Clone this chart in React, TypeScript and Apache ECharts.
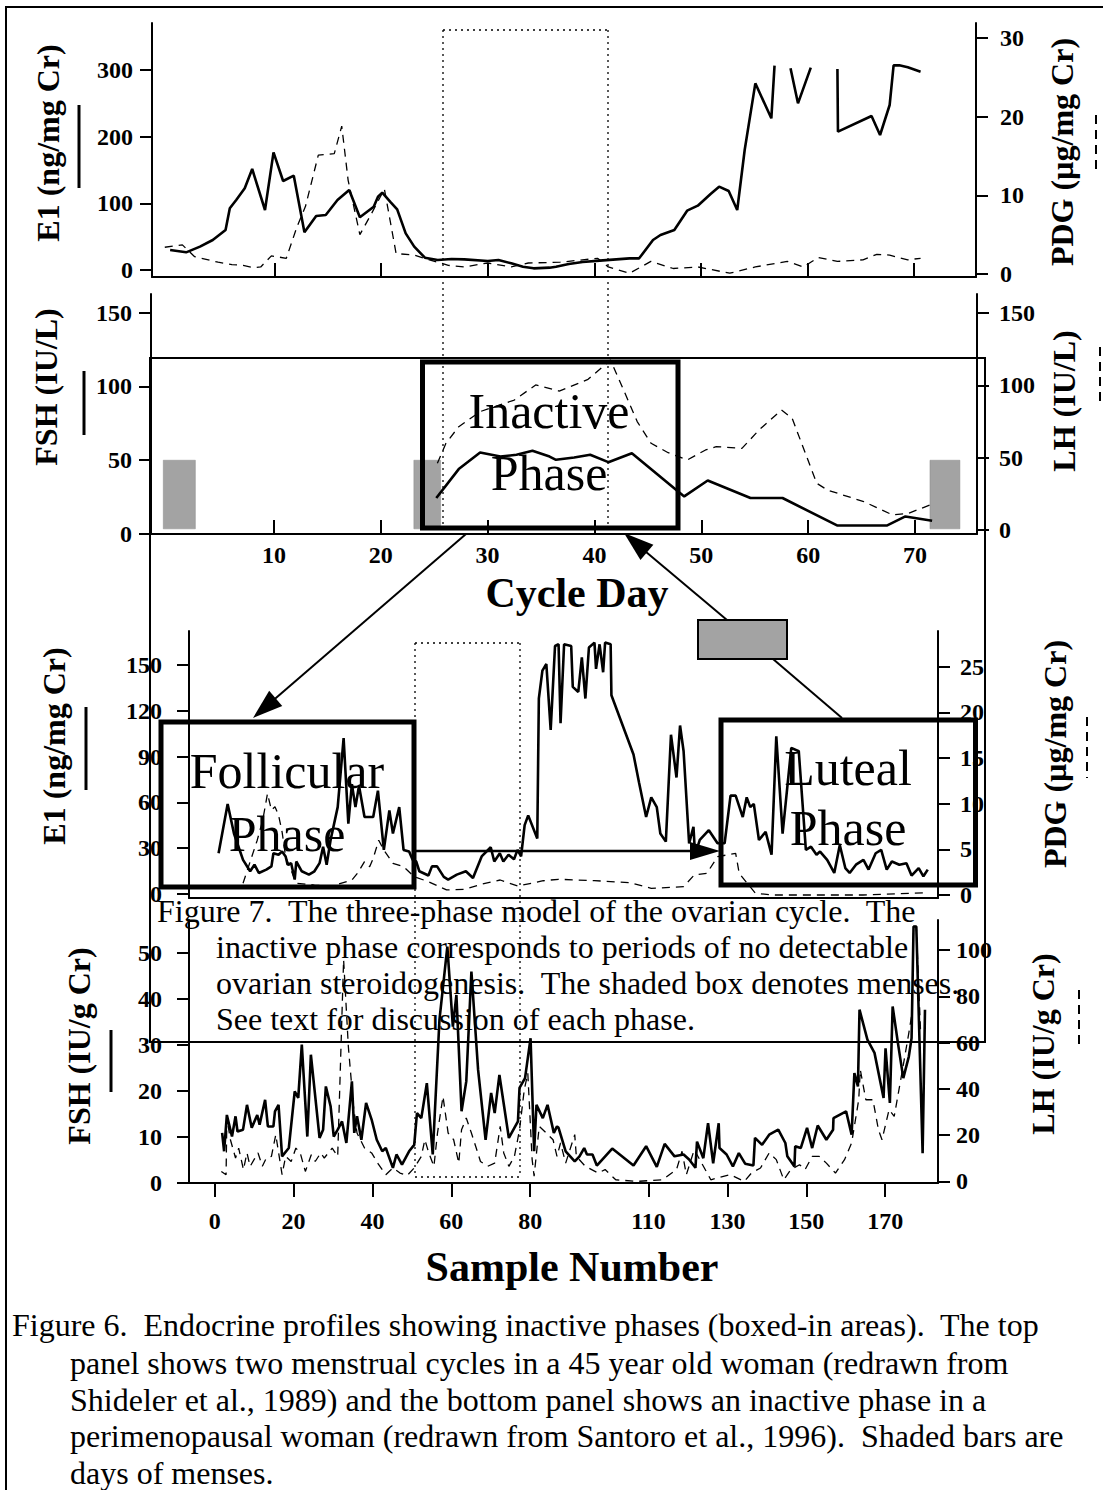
import React, { useEffect, useRef } from "react";
import * as echarts from "echarts";

const FONT = "'Liberation Serif', 'Times New Roman', serif";

// ---------- Panel 1: E1 / PDG by cycle day ----------
const cycleDayTicks = [10, 20, 30, 40, 50, 60, 70];
const e1AxisTicks = [0, 100, 200, 300];
const pdgAxisTicks = [0, 10, 20, 30];
const e1ByCycleDay: (number | string)[][] = [
  [0.2, 30], [1.7, 26.5], [3.0, 35], [4.2, 45], [5.4, 60], [5.8, 92.5], [6.4, 105], [7.2, 122.5],
  [7.9, 151.5], [9.1, 90], [9.9, 176.5], [10.8, 133.5], [11.8, 141.5], [12.8, 56.5], [13.9, 81],
  [14.8, 82.5], [15.9, 105], [17.0, 120], [18.0, 79], [19.3, 95], [19.7, 110], [20.1, 116],
  [20.9, 101.5], [21.5, 91], [22.3, 55], [23.1, 35], [24.1, 18.5], [25.3, 15], [26.6, 16.5],
  [27.8, 16], [30.0, 13.5], [31.0, 15], [32.2, 10], [33.3, 5], [34.3, 2.5], [35.8, 3.5], [36.4, 5],
  [37.6, 9], [38.9, 12], [40.5, 14], [43.3, 17.5], [44.2, 17.5], [45.5, 45], [46.2, 52.5],
  [47.5, 60], [48.7, 89], [49.7, 96.5], [50.9, 114], [51.7, 125], [52.6, 118.5], [53.4, 90],
  [54.1, 180], [55.1, 280], [56.6, 227.5], [56.9, 306.5], [57.6, "-"], [58.4, 302.5], [59.1, 250],
  [60.3, 303.5], [61.5, "-"], [62.8, 301.5], [62.85, 207.5], [66.0, 231], [66.8, 202.5],
  [67.7, 247.5], [68.07, 307], [68.6, 307], [69.4, 304], [70.6, 297.5],
];
const pdgByCycleDay: number[][] = [
  [-0.3, 3.4], [1.35, 3.7], [2.5, 2.2], [4.7, 1.5], [6.0, 1.2], [7.05, 1.1], [8.05, 0.8], [8.7, 0.9],
  [9.7, 2.3], [11.1, 2.0], [12.1, 6.0], [12.9, 8.6], [14.1, 15.1], [15.6, 15.3], [16.3, 18.8],
  [16.9, 11.9], [18.0, 5.0], [19.1, 7.7], [20.3, 10.8], [21.4, 2.6], [23.1, 2.4], [24.3, 1.9],
  [26.3, 1.1], [27.8, 0.9], [30.0, 1.4], [32.2, 0.9], [33.8, 1.4], [36.8, 1.5], [40.3, 2.0],
  [41.3, 0.9], [43.3, 0.1], [45.3, 1.6], [47.4, 0.7], [49.7, 0.9], [52.7, 0.1], [55.1, 0.9],
  [58.1, 1.6], [59.6, 0.9], [61.0, 2.1], [62.8, 1.6], [65.2, 1.8], [66.5, 2.5], [67.7, 2.4],
  [69.4, 1.8], [70.6, 2.0],
];

// ---------- Panel 2: FSH / LH by cycle day ----------
const fshLhTicks = [0, 50, 100, 150];
const fshByCycleDay: number[][] = [
  [25.2, 24.4], [27.3, 44.0], [29.3, 55.2], [31.2, 52.5], [32.7, 53.7], [34.2, 56.4], [35.8, 52.5],
  [36.4, 50.3], [38.1, 51.9], [39.6, 53.7], [41.3, 48.7], [43.5, 54.8], [48.4, 25.5], [50.6, 36.3],
  [54.6, 24.4], [57.6, 24.4], [62.7, 5.8], [67.4, 5.8], [69.1, 11.9], [71.6, 9.0],
];
const lhByCycleDay: number[][] = [
  [25.3, 46.1], [26.1, 59.9], [27.3, 71.4], [29.3, 81.8], [32.5, 89.8], [34.5, 100.2], [36.7, 96],
  [39.4, 104.1], [41.5, 117.5], [43.0, 92.1], [44.0, 74.9], [45.3, 59.9], [46.9, 53.4], [48.7, 48.4],
  [50.4, 55.3], [51.4, 57.6], [53.8, 56.4], [55.4, 69.1], [57.5, 82.9], [58.5, 77.2], [60.8, 32.3],
  [61.8, 27.6], [65.2, 19.6], [67.9, 10.4], [69.4, 11.5], [71.4, 17.3],
];
// menses bars: [startDay, endDay, low, high]
const mensesDays: number[][] = [
  [-0.35, 2.65, 3.5, 50], [23.1, 25.6, 3.5, 50], [71.4, 74.2, 3.5, 50],
];

// ---------- Panel 3: E1 / PDG by sample number ----------
const sampleTicks = [0, 20, 40, 60, 80, 110, 130, 150, 170];
const e1SampleTicks = [0, 30, 60, 90, 120, 150];
const pdgSampleTicks = [0, 5, 10, 15, 20, 25];
const e1BySample: number[][] = [
  [1.0, 26.7], [3.3, 59.0], [4.9, 39.6], [7.2, 22.4], [9.0, 14.9], [10.1, 19.2], [11.2, 13.8],
  [13.1, 16.0], [14.4, 18.1], [14.9, 26.7], [16.2, 25.7], [17.1, 27.8], [18.0, 24.6], [18.5, 19.2],
  [19.4, 20.2], [20.3, 9.5], [20.7, 21.3], [22.1, 14.9], [23.9, 12.7], [25.3, 14.9], [26.6, 20.2],
  [27.5, 31.0], [28.4, 19.2], [29.4, 35.4], [31.2, 56.9], [32.7, 102.1], [33.9, 46.1], [34.8, 71.9],
  [35.7, 56.9], [36.6, 70.9], [38.0, 50.4], [40.2, 50.4], [41.4, 67.7], [42.9, 28.9], [44.3, 54.8],
  [45.2, 39.6], [46.8, 56.9], [47.9, 28.9], [49.3, 27.8], [50.2, 22.4], [51.1, 21.3], [51.9, 14.9],
  [54.2, 12.1], [55.1, 18.1], [56.4, 18.1], [58.1, 11.2], [59.2, 9.5], [61.4, 12.7], [63.7, 14.9],
  [65.5, 10.5], [67.7, 24.6], [70.0, 30.6], [70.9, 21.3], [72.3, 26.7], [73.2, 21.3], [74.5, 25.7],
  [75.9, 22.8], [76.8, 28.9], [77.7, 24.6], [78.6, 45.1], [79.5, 51.5], [81.8, 36.4], [82.2, 128.0],
  [83.1, 146.3], [84.1, 150.6], [85.2, 107.5], [86.3, 162.4], [87.2, 163.5], [87.7, 111.8],
  [88.6, 163.5], [90.4, 162.4], [90.8, 135.6], [92.2, 132.3], [93.1, 154.9], [94.0, 128.0],
  [94.9, 161.4], [96.3, 164.6], [96.7, 147.4], [97.6, 163.5], [98.5, 145.2], [99.0, 164.6],
  [100.4, 163.5], [100.6, 130.1], [106.2, 91.3], [107.6, 73.0], [109.4, 50.4], [110.7, 63.3],
  [112.1, 56.9], [113.0, 39.6], [114.4, 34.3], [115.7, 104.3], [117.1, 76.3], [118.0, 110.3],
  [118.9, 93.5], [120.3, 33.2], [121.4, 44.0], [121.8, 25.7], [123.0, 35.4], [125.3, 41.8],
  [127.5, 33.2], [129.3, 33.2], [130.8, 64.4], [132.1, 64.4], [133.9, 50.4], [134.9, 63.3],
  [135.8, 56.9], [136.7, 59.0], [138.0, 35.4], [139.7, 40.7], [141.2, 25.7], [142.4, 103.2],
  [144.0, 39.6], [146.2, 95.7], [148.1, 93.5], [149.9, 28.9], [151.2, 31.0], [152.6, 25.7],
  [153.5, 27.8], [155.3, 22.4], [157.1, 13.8], [158.5, 32.1], [159.9, 17.0], [161.0, 13.8],
  [162.6, 19.2], [164.5, 22.4], [165.8, 16.0], [167.6, 26.7], [169.0, 28.9], [170.4, 16.0],
  [171.7, 21.3], [173.6, 19.2], [175.4, 20.2], [176.7, 12.1], [178.5, 17.0], [179.7, 11.6],
  [180.8, 16.0],
];
const pdgBySample: number[][] = [
  [7.2, 1.28], [9.0, 3.65], [10.8, 6.0], [12.2, 8.2], [13.4, 11.1], [14.4, 9.3], [15.3, 9.66],
  [16.2, 8.75], [17.1, 6.9], [18.0, 4.2], [20.7, 1.28], [25.3, 1.09], [29.8, 0.98], [34.8, 1.64],
  [36.2, 2.37], [38.0, 3.65], [39.3, 3.1], [40.2, 4.0], [41.6, 6.0], [42.9, 4.92], [45.2, 3.47],
  [47.9, 3.1], [50.6, 2.0], [54.2, 1.46], [58.8, 0.55], [63.3, 0.62], [67.9, 1.2], [72.4, 1.64],
  [76.9, 0.98], [83.3, 1.56], [87.2, 1.72], [96.3, 1.57], [105.3, 1.35], [110.7, 0.73],
  [118.9, 0.91], [121.6, 2.19], [124.8, 2.37], [127.5, 4.19], [132.1, 4.56], [133.0, 2.37],
  [137.1, 0.19], [141.7, 0.0], [155.3, 0.0], [164.4, 0.0], [180.8, 0.25],
];

// ---------- Panel 4: FSH / LH by sample number ----------
const fshSampleTicks = [0, 10, 20, 30, 40, 50];
const lhSampleTicks = [0, 20, 40, 60, 80, 100];
const fshBySample: number[][] = [
  [1.9, 10.9], [2.4, 6.9], [3.1, 14.8], [4.4, 10.1], [5.3, 14.5], [5.8, 11.2], [7.2, 11.6],
  [8.2, 17.0], [9.4, 12.0], [10.8, 14.8], [11.4, 12.7], [12.8, 18.1], [13.5, 12.3], [14.9, 12.3],
  [15.3, 15.6], [16.2, 17.0], [17.1, 5.8], [18.8, 7.6], [20.3, 19.9], [21.2, 18.5], [22.1, 30.1],
  [23.5, 10.1], [24.4, 27.9], [26.6, 9.8], [27.5, 11.6], [28.2, 21.0], [29.4, 16.7], [30.2, 10.1],
  [31.2, 11.6], [32.3, 13.4], [33.4, 8.7], [34.8, 22.1], [35.4, 10.9], [36.1, 14.5], [37.2, 9.4],
  [38.4, 17.4], [39.8, 13.8], [41.1, 9.4], [42.5, 6.9], [43.4, 7.6], [45.2, 3.3], [46.1, 6.2],
  [47.5, 4.0], [49.3, 6.9], [50.6, 8.3], [51.3, 15.2], [52.4, 14.1], [53.8, 21.7], [55.3, 6.2],
  [57.0, 35.5], [59.0, 51.4], [60.4, 34.0], [61.3, 40.9], [62.6, 15.6], [63.8, 22.1], [65.1, 46.0],
  [66.8, 24.6], [68.7, 9.4], [70.1, 19.6], [71.0, 15.2], [72.2, 23.5], [74.6, 9.8], [76.9, 13.4],
  [77.3, 20.7], [78.7, 22.8], [80.1, 31.5], [81.0, 6.9], [81.6, 17.0], [83.2, 14.1], [84.4, 17.0],
  [86.0, 10.9], [86.8, 12.3], [87.2, 12.0], [89.0, 6.9], [91.3, 4.7], [92.5, 5.8], [93.7, 7.6],
  [94.4, 6.2], [95.8, 6.2], [96.9, 3.8], [100.8, 7.5], [106.2, 3.8], [109.4, 8.0], [112.1, 3.5],
  [114.1, 8.5], [116.6, 5.8], [118.9, 6.2], [120.3, 5.1], [121.9, 3.3], [122.3, 9.0], [123.9, 5.4],
  [125.1, 13.0], [126.4, 4.3], [127.8, 13.0], [128.0, 7.6], [129.8, 6.2], [131.4, 3.6],
  [132.9, 6.5], [134.5, 4.2], [136.6, 3.8], [137.0, 9.8], [138.8, 8.3], [140.6, 10.5],
  [142.9, 11.6], [144.7, 8.7], [145.2, 5.8], [147.0, 3.6], [147.2, 8.0], [148.6, 7.6],
  [150.2, 12.0], [151.5, 7.6], [152.9, 12.5], [155.1, 9.4], [156.8, 11.6], [156.9, 14.1],
  [160.1, 15.6], [161.5, 10.5], [162.2, 23.9], [163.1, 21.0], [163.5, 37.7], [165.5, 31.2],
  [167.3, 28.3], [169.6, 18.5], [170.1, 29.3], [171.2, 17.4], [171.9, 38.4], [173.3, 30.1],
  [174.6, 22.8], [176.0, 27.5], [176.7, 31.5], [177.2, 55.8], [177.9, 55.8], [179.5, 6.5],
  [180.1, 37.7],
];
const lhBySample: number[][] = [
  [1.7, 4.3], [2.9, 2.9], [3.1, 27.4], [4.0, 18.0], [5.3, 10.1], [6.1, 14.4], [7.3, 5.1],
  [8.2, 12.3], [9.0, 6.5], [10.1, 9.7], [11.0, 12.3], [12.1, 6.5], [13.1, 10.1], [14.4, 10.8],
  [15.5, 20.2], [17.1, 2.9], [18.0, 10.8], [19.4, 8.6], [20.6, 14.4], [21.7, 12.3], [23.0, 4.3],
  [24.5, 11.5], [25.5, 8.6], [26.9, 12.3], [27.8, 10.1], [29.8, 14.4], [31.2, 10.8], [32.7, 95.8],
  [33.9, 58.3], [35.2, 32.4], [36.1, 20.9], [38.0, 14.4], [39.8, 12.3], [41.6, 7.2], [43.4, 2.9],
  [45.2, 5.8], [47.0, 3.6], [48.8, 2.5], [50.6, 5.8], [52.4, 10.8], [53.3, 18.0], [54.3, 12.3],
  [55.6, 6.5], [56.5, 20.9], [57.9, 36.7], [59.2, 20.9], [60.6, 18.0], [61.9, 7.9], [62.6, 22.3],
  [63.8, 27.4], [65.1, 20.9], [66.2, 15.1], [67.4, 8.6], [69.2, 6.5], [71.0, 7.9], [72.4, 23.8],
  [73.3, 12.3], [74.6, 6.5], [76.0, 10.8], [77.3, 22.3], [78.5, 39.6], [79.4, 46.8], [80.5, 9.4],
  [81.0, 2.2], [82.3, 23.8], [84.1, 20.9], [85.8, 18.0], [86.8, 10.8], [87.7, 16.6], [89.0, 7.9],
  [91.3, 20.2], [91.7, 10.8], [94.0, 6.5], [97.2, 3.6], [99.0, 5.1], [101.7, 0.7], [107.1, 0],
  [113.5, 0.7], [117.1, 5.1], [118.5, 13.0], [119.6, 2.9], [121.6, 13.7], [125.8, 0.7],
  [130.7, 2.9], [134.3, 0], [136.1, 3.6], [138.4, 5.8], [140.6, 12.3], [142.4, 9.4], [144.3, 0.7],
  [146.1, 5.1], [148.3, 7.2], [149.7, 5.1], [151.5, 10.8], [153.3, 10.8], [155.1, 7.9],
  [157.4, 3.6], [159.7, 9.4], [161.5, 16.6], [163.3, 35.3], [163.7, 48.3], [165.1, 35.3],
  [166.9, 35.3], [168.3, 22.3], [169.2, 18.0], [171.0, 31.0], [172.3, 28.1], [174.1, 45.4],
  [176.0, 64.1], [176.8, 72.7], [177.2, 110.2], [177.9, 110.2], [179.0, 64.1],
];

// ---------- captions ----------
const fig7Lines = [
  "Figure 7.  The three-phase model of the ovarian cycle.  The",
  "inactive phase corresponds to periods of no detectable",
  "ovarian steroidogenesis.  The shaded box denotes menses.",
  "See text for discussion of each phase.",
];
const fig6Lines = [
  "Figure 6.  Endocrine profiles showing inactive phases (boxed-in areas).  The top",
  "panel shows two menstrual cycles in a 45 year old woman (redrawn from",
  "Shideler et al., 1989) and the bottom panel shows an inactive phase in a",
  "perimenopausal woman (redrawn from Santoro et al., 1996).  Shaded bars are",
  "days of menses.",
];

const labelStyle = { fontFamily: FONT, fontWeight: "bold", fontSize: 24, color: "#000" };
const blackLine = { color: "#000", width: 2 };

function yAxis(gridIndex: number, position: string, min: number, max: number, ticks: number[], margin: number) {
  return {
    type: "value", gridIndex, position, min, max,
    axisLine: { show: true, onZero: false, lineStyle: blackLine },
    axisTick: { show: true, length: 12, lineStyle: blackLine, customValues: ticks },
    axisLabel: { ...labelStyle, margin, customValues: ticks },
    splitLine: { show: false },
  };
}
function xAxis(gridIndex: number, min: number, max: number, ticks: number[] | null, inside: boolean, showLabels: boolean, margin = 10) {
  return {
    type: "value", gridIndex, min, max,
    axisLine: { show: true, onZero: false, lineStyle: blackLine },
    axisTick: ticks ? { show: true, inside, length: 14, lineStyle: blackLine, customValues: ticks } : { show: false },
    axisLabel: showLabels && ticks ? { ...labelStyle, margin, customValues: ticks } : { show: false },
    splitLine: { show: false },
  };
}
function line(data: any[], xi: number, yi: number, dashed: boolean) {
  return {
    type: "line", data, xAxisIndex: xi, yAxisIndex: yi, showSymbol: false, symbol: "none",
    connectNulls: false, silent: true, z: dashed ? 2 : 3,
    lineStyle: dashed ? { color: "#000", width: 1.3, type: [8, 6] } : { color: "#000", width: 2.6 },
  };
}

function txt(text: string, x: number, y: number, size: number, bold: boolean, rotate = false, align = "center") {
  return {
    type: "text", x, y, rotation: rotate ? Math.PI / 2 : 0, z: 120,
    style: {
      text, fill: "#000", fontFamily: FONT, fontSize: size, fontWeight: bold ? "bold" : "normal",
      align, textAlign: align, verticalAlign: "middle", textVerticalAlign: "middle",
    },
  };
}
function seg(x1: number, y1: number, x2: number, y2: number, w = 2, dash: number[] | null = null) {
  return {
    type: "line", z: 110, shape: { x1, y1, x2, y2 },
    style: { stroke: "#000", lineWidth: w, lineDash: dash || undefined },
  };
}
function box(x: number, y: number, w: number, h: number, lw: number, fill = "none") {
  return { type: "rect", z: 105, shape: { x, y, width: w, height: h }, style: { fill, stroke: "#000", lineWidth: lw } };
}
function head(x1: number, y1: number, x2: number, y2: number, len: number, wid: number) {
  const dx = x2 - x1, dy = y2 - y1, d = Math.hypot(dx, dy);
  const ux = dx / d, uy = dy / d;
  const bx = x2 - ux * len, by = y2 - uy * len;
  return {
    type: "polygon", z: 115,
    shape: { points: [[x2, y2], [bx - uy * wid / 2, by + ux * wid / 2], [bx + uy * wid / 2, by - ux * wid / 2]] },
    style: { fill: "#000" },
  };
}

export default function App() {
  const ref = useRef<HTMLDivElement>(null);
  useEffect(() => {
    document.body.style.margin = "0";
    const chart = echarts.init(ref.current!, null, { renderer: "svg" });
    const dot = [2, 4];
    const graphics: any[] = [
      box(6, 7, 1200, 1600, 2),
      // figure 7 frame
      box(150, 358, 835, 684, 2),
      // dotted boxes
      seg(443, 30, 608, 30, 1.3, dot), seg(443, 30, 443, 530, 1.3, dot), seg(608, 30, 608, 530, 1.3, dot),
      seg(415, 643, 520, 643, 1.3, dot), seg(415, 643, 415, 1177, 1.3, dot), seg(520, 643, 520, 1177, 1.3, dot),
      seg(415, 1177, 520, 1177, 1.3, dot),
      // legend marks
      seg(79, 105, 79, 188, 3), seg(1096, 115, 1096, 175, 2, [9, 6]),
      seg(84, 371, 84, 435, 3), seg(1100, 347, 1100, 407, 2, [9, 6]),
      seg(86, 707, 86, 790, 3), seg(1087, 717, 1087, 778, 2, [9, 6]),
      seg(111, 1030, 111, 1092, 3), seg(1079, 990, 1079, 1050, 2, [9, 6]),
      // phase boxes
      box(422.5, 362, 255.5, 166, 5),
      box(161, 722, 253, 165, 5),
      box(721, 720, 254.5, 165, 5),
      box(698, 620, 89, 39, 2, "#a3a3a3"),
      // arrows
      seg(466, 534, 262, 710, 2), head(466, 534, 253, 718, 30, 20),
      seg(727, 620, 633, 541, 2), head(727, 620, 624, 533, 30, 20),
      seg(773, 659, 842, 718, 2),
      seg(414, 851, 700, 851, 2.5), head(414, 851, 720, 851, 30, 18),
      // phase labels
      txt("Inactive", 549, 411, 50, false), txt("Phase", 549, 473, 50, false),
      txt("Follicular", 287, 771, 50, false), txt("Phase", 287, 834, 50, false),
      txt("Luteal", 848, 768, 50, false), txt("Phase", 848, 828, 50, false),
      // axis titles
      txt("E1 (ng/mg Cr)", 48, 143, 32, true, true),
      txt("PDG (µg/mg Cr)", 1062, 152, 32, true, true),
      txt("FSH (IU/L)", 46, 387, 32, true, true),
      txt("LH (IU/L)", 1064, 401, 32, true, true),
      txt("Cycle Day", 577, 593, 42, true),
      txt("E1 (ng/mg Cr)", 54, 746, 32, true, true),
      txt("PDG (µg/mg Cr)", 1055, 754, 32, true, true),
      txt("FSH (IU/g Cr)", 79, 1046, 32, true, true),
      txt("LH (IU/g Cr)", 1043, 1044, 32, true, true),
      txt("Sample Number", 572, 1267, 42, true),
    ];
    const f7y = [911, 947, 983, 1019];
    fig7Lines.forEach((t, i) => graphics.push(txt(t, i === 0 ? 157 : 216, f7y[i], 32, false, false, "left")));
    const f6y = [1325, 1363, 1400, 1436, 1473];
    fig6Lines.forEach((t, i) => graphics.push(txt(t, i === 0 ? 12 : 70, f6y[i], 32, false, false, "left")));

    chart.setOption({
      animation: false,
      grid: [
        { left: 152, top: 23, width: 824, height: 254, containLabel: false, outerBoundsMode: "none" },
        { left: 151, top: 294, width: 826, height: 240, containLabel: false, outerBoundsMode: "none" },
        { left: 189, top: 631, width: 749, height: 267, containLabel: false, outerBoundsMode: "none" },
        { left: 189, top: 920, width: 749, height: 263, containLabel: false, outerBoundsMode: "none" },
      ],
      xAxis: [
        xAxis(0, -1.5, 75.8, cycleDayTicks, true, false),
        xAxis(1, -1.5, 75.8, cycleDayTicks, true, true, 9),
        xAxis(2, -6.5, 183.4, null, false, false),
        xAxis(3, -6.5, 183.4, sampleTicks, false, true, 26),
      ],
      yAxis: [
        yAxis(0, "left", -10.5, 370.5, e1AxisTicks, 19),
        yAxis(0, "right", -0.38, 31.9, pdgAxisTicks, 24),
        yAxis(1, "left", 0, 162.7, fshLhTicks, 19),
        yAxis(1, "right", -2.8, 163.1, fshLhTicks, 22),
        yAxis(2, "left", -2.6, 172.2, e1SampleTicks, 27),
        yAxis(2, "right", -0.33, 28.9, pdgSampleTicks, 22),
        yAxis(3, "left", 0, 57.2, fshSampleTicks, 27),
        yAxis(3, "right", -0.7, 113.0, lhSampleTicks, 18),
      ],
      series: [
        line(e1ByCycleDay, 0, 0, false),
        line(pdgByCycleDay, 0, 1, true),
        line(fshByCycleDay, 1, 2, false),
        line(lhByCycleDay, 1, 3, true),
        {
          type: "custom", xAxisIndex: 1, yAxisIndex: 2, data: mensesDays, silent: true, z: 1,
          encode: { x: [0, 1], y: [2, 3] },
          renderItem: (_p: any, api: any) => {
            const a = api.coord([api.value(0), api.value(3)]);
            const b = api.coord([api.value(1), api.value(2)]);
            return {
              type: "rect",
              shape: { x: a[0], y: a[1], width: b[0] - a[0], height: b[1] - a[1] },
              style: { fill: "#a3a3a3", stroke: "#8a8a8a", lineWidth: 0.5 },
            };
          },
        },
        line(e1BySample, 2, 4, false),
        line(pdgBySample, 2, 5, true),
        line(fshBySample, 3, 6, false),
        line(lhBySample, 3, 7, true),
      ],
      graphic: { elements: graphics },
    });
    return () => chart.dispose();
  }, []);
  return <div ref={ref} style={{ width: 1103, height: 1490 }} />;
}
